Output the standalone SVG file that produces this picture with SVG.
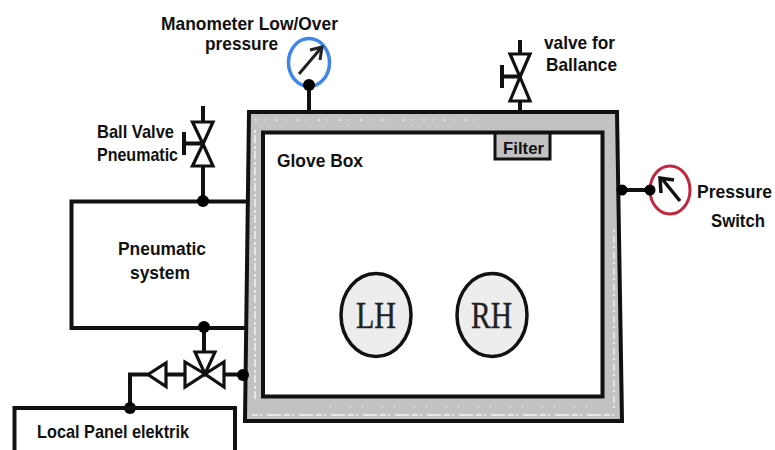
<svg xmlns="http://www.w3.org/2000/svg" width="775" height="450" viewBox="0 0 775 450">
<style>
.l{fill:none;stroke:#111;stroke-width:4}
.a{fill:none;stroke:#222;stroke-width:3}
.v{fill:#fff;stroke:#111;stroke-width:3.2;stroke-linejoin:miter}
.d{fill:#000}
.t{font-family:"Liberation Sans",Arial,sans-serif;font-size:18.500px;font-weight:bold;fill:#111;text-anchor:start}
.s{font-family:"Liberation Serif","Times New Roman",serif;font-size:37px;fill:#222;text-anchor:start;stroke:#222;stroke-width:.4}
.e{fill:#ededed;stroke:#111;stroke-width:3.500}
.sp{fill:none;stroke:#f2f2f2;stroke-width:1.500}
</style>
<rect width="775" height="450" fill="#fff"/>
<g id="glove-box">
<path d="M249 112H617L622 421H245Z" fill="#c2c2c2" stroke="#111" stroke-width="4"/>
<path class="sp" d="M255 130V400" stroke-dasharray="3 2 8 3"/>
<path class="sp" d="M255 120H480" stroke-dasharray="2 7 1 11"/>
<path class="sp" d="M252 415H618" stroke-dasharray="6 2 2 5 14 3"/>
<path class="sp" d="M614 230V410" stroke-dasharray="2 4 7 3"/>
<path class="sp" d="M330 407H600" stroke-dasharray="1 19 1 11" stroke-width="2"/>
<path d="M263 132.500H602.500V396.500H263Z" fill="#fff" stroke="#111" stroke-width="4"/>
<text class="t" x="277" y="167" textLength="86" lengthAdjust="spacingAndGlyphs">Glove Box</text>
</g>
<g id="filter">
<rect x="495" y="133" width="55" height="26" fill="#c2c2c2" stroke="#111" stroke-width="3"/>
<text class="t" x="503" y="153.500" textLength="41" lengthAdjust="spacingAndGlyphs" style="font-size:17px">Filter</text>
</g>
<g id="connectors">
<path class="l" d="M309 86V112M203 106V201M71 201.500H246M71 328H246M71.500 199.500V330M204 328V352M167 374.500H185M148 374.500H130V408M243 374.500H224M622 190H650M520 40V112"/>
<circle class="d" cx="203" cy="201" r="6"/>
<circle class="d" cx="204" cy="327" r="6"/>
<circle class="d" cx="243" cy="375" r="6"/>
<circle class="d" cx="130" cy="408" r="6"/>
<circle class="d" cx="622" cy="190" r="5.500"/>
</g>
<g id="manometer">
<ellipse cx="309" cy="62.500" rx="20.500" ry="24" fill="#fff" stroke="#3f86e8" stroke-width="3.500"/>
<path class="a" d="M299 74L321 48M310 50L322 47L320 60"/>
<text class="t" x="161" y="29.500" textLength="177" lengthAdjust="spacingAndGlyphs">Manometer Low/Over</text>
<text class="t" x="205" y="50" textLength="73" lengthAdjust="spacingAndGlyphs">pressure</text>
<circle class="d" cx="309" cy="85" r="6"/>
</g>
<g id="valve-balance">
<path class="v" d="M510 54H530L520 77L510 101H530L520 77Z"/>
<path class="l" d="M502 76.500H520M502 65V88"/>
<text class="t" x="544" y="49" textLength="71" lengthAdjust="spacingAndGlyphs">valve for</text>
<text class="t" x="546" y="71" textLength="71" lengthAdjust="spacingAndGlyphs">Ballance</text>
</g>
<g id="ball-valve">
<path class="v" d="M192.500 122H213L203 144L192.500 166H213L203 144Z"/>
<path class="l" d="M184 143.500H203M184 132V155"/>
<text class="t" x="97" y="138" textLength="77" lengthAdjust="spacingAndGlyphs">Ball Valve</text>
<text class="t" x="97" y="161" textLength="81" lengthAdjust="spacingAndGlyphs">Pneumatic</text>
</g>
<g id="pneumatic-system">
<text class="t" x="118" y="255" textLength="88" lengthAdjust="spacingAndGlyphs">Pneumatic</text>
<text class="t" x="130" y="279" textLength="60" lengthAdjust="spacingAndGlyphs">system</text>
</g>
<g id="three-way-valve">
<path class="v" d="M195 352H215L205 374ZM185 362V387L205 374ZM224 362V387L205 374Z"/>
</g>
<g id="check-valve">
<path class="v" d="M148 374.500L166 363V386.500Z"/>
</g>
<g id="local-panel">
<path class="l" d="M14.500 450V408H235V450"/>
<text class="t" x="37" y="438" textLength="152" lengthAdjust="spacingAndGlyphs">Local Panel elektrik</text>
</g>
<g id="pressure-switch">
<ellipse cx="670" cy="190" rx="20" ry="24" fill="#fff" stroke="#c0283f" stroke-width="3"/>
<path class="l" d="M680 201L663 180M661 193L660 178L674 180" style="stroke-width:3.500"/>
<circle class="d" cx="650" cy="190" r="5.500"/>
<text class="t" x="697" y="198" textLength="75" lengthAdjust="spacingAndGlyphs">Pressure</text>
<text class="t" x="711" y="227" textLength="54" lengthAdjust="spacingAndGlyphs">Switch</text>
</g>
<g id="lh">
<ellipse class="e" cx="376" cy="315" rx="35" ry="41.500"/>
<text class="s" x="356" y="328" textLength="40" lengthAdjust="spacingAndGlyphs">LH</text>
</g>
<g id="rh">
<ellipse class="e" cx="492" cy="315" rx="35" ry="41.500"/>
<text class="s" x="471" y="328" textLength="41" lengthAdjust="spacingAndGlyphs">RH</text>
</g>
</svg>
